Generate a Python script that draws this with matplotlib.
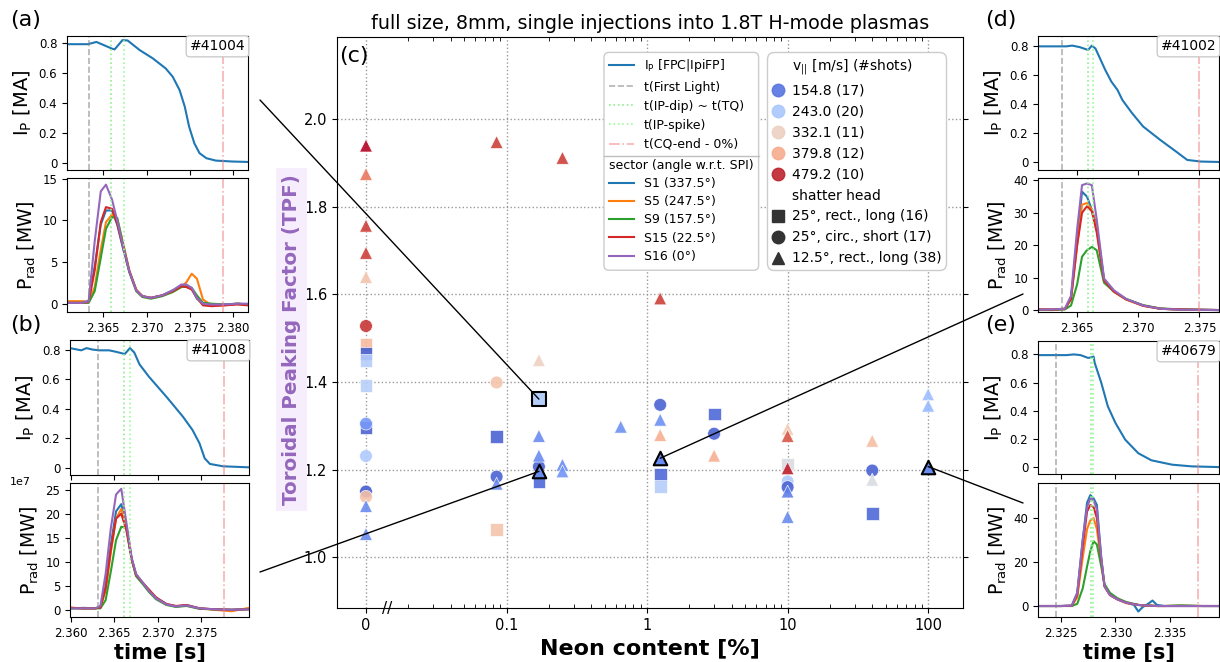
import numpy as np
import matplotlib.pyplot as plt
from matplotlib.lines import Line2D
from matplotlib.patches import ConnectionPatch, FancyBboxPatch
from matplotlib.colors import Normalize
from matplotlib.ticker import FixedLocator, NullFormatter
from matplotlib.transforms import IdentityTransform, blended_transform_factory

# ---- central scatter: TPF vs neon content ----
neon_pct = [0, 0, 0, 0, 0, 0, 0, 0, 0, 0, 0, 0, 0, 0, 0, 0, 0,
            0.085, 0.085, 0.085, 0.085, 0.085, 0.085,
            0.17, 0.17, 0.17, 0.17, 0.17, 0.17,
            0.25, 0.25, 0.25,
            0.65,
            1.24, 1.24, 1.24, 1.24, 1.24, 1.24,
            3.0, 3.0, 3.0,
            10, 10, 10, 10, 10, 10, 10, 10,
            40, 40, 40, 40,
            100, 100]
tpf = [1.94, 1.875, 1.757, 1.695, 1.640, 1.528, 1.486, 1.466, 1.450, 1.393, 1.297, 1.305, 1.231, 1.150, 1.138, 1.117, 1.053,
       1.948, 1.399, 1.275, 1.184, 1.168, 1.064,
       1.450, 1.361, 1.277, 1.232, 1.207, 1.173,
       1.912, 1.211, 1.196,
       1.298,
       1.591, 1.348, 1.314, 1.279, 1.188, 1.162,
       1.327, 1.282, 1.232,
       1.293, 1.277, 1.213, 1.203, 1.173, 1.160, 1.150, 1.092,
       1.266, 1.198, 1.177, 1.099,
       1.372, 1.346]
shape = ['^', '^', '^', '^', '^', 'o', 's', 's', 's', 's', 's', 'o', 'o', 'o', 'o', '^', '^',
         '^', 'o', 's', 'o', '^', 's',
         '^', 'o', '^', '^', 'o', 's',
         '^', '^', '^',
         '^',
         '^', 'o', '^', '^', 's', 's',
         's', 'o', '^',
         '^', '^', 's', '^', 'o', 'o', '^', '^',
         '^', 'o', '^', 's',
         '^', '^']
v_par = [490, 425, 465, 465, 350, 470, 365, 135, 255, 260, 140, 190, 250, 135, 355, 175, 175,
         465, 350, 140, 140, 175, 350,
         330, 255, 175, 175, 140, 145,
         465, 175, 185,
         180,
         465, 140, 180, 375, 145, 255,
         145, 140, 375,
         340, 450, 300, 480, 250, 140, 165, 175,
         360, 140, 300, 145,
         230, 225]

# shots shown in the side panels (a), (b), (d), (e)
hl_neon = [0.17, 0.17, 1.24, 100]
hl_tpf = [1.361, 1.196, 1.226, 1.207]
hl_shape = ['s', '^', '^', '^']
hl_v = [255, 175, 175, 175]

leg_v = [154.8, 243.0, 332.1, 379.8, 479.2]
leg_nshots = [17, 20, 11, 12, 10]
head_labels = ['25°, rect., long (16)', '25°, circ., short (17)', '12.5°, rect., long (38)']
sector_labels = ['S1 (337.5°)', 'S5 (247.5°)', 'S9 (157.5°)', 'S15 (22.5°)', 'S16 (0°)']
sector_colors = ['C0', 'C1', 'C2', 'C3', 'C4']

# ---- (a) #41004 ----
t_ip_a = [2.3608, 2.3632, 2.3642, 2.3660, 2.3663, 2.3672, 2.3678, 2.3692, 2.3707, 2.3722, 2.3730,
          2.3738, 2.3744, 2.3749, 2.3755, 2.3761, 2.3769, 2.3780, 2.3799, 2.3817]
ip_a = [0.795, 0.795, 0.810, 0.765, 0.760, 0.822, 0.820, 0.755, 0.700, 0.632, 0.577,
        0.487, 0.375, 0.241, 0.130, 0.063, 0.029, 0.013, 0.007, 0.004]
t_pr_a = [2.3608, 2.3625, 2.3633, 2.3640, 2.3647, 2.3653, 2.3660, 2.3666, 2.3673, 2.3680, 2.3688, 2.3695,
          2.3705, 2.3718, 2.3730, 2.3740, 2.3746, 2.3752, 2.3758, 2.3765, 2.3775, 2.3790, 2.3805, 2.3817]
prad_a = [
    [0.2, 0.2, 0.3, 4.5, 9.5, 11.2, 11.2, 9.5, 6.5, 3.8, 1.6, 0.9, 0.7, 1.0, 1.6, 2.1, 2.0, 1.8, 0.6, 0.0, -0.1, -0.1, 0.0, -0.1],
    [0.3, 0.3, 0.2, 2.0, 6.5, 9.8, 10.7, 10.2, 7.2, 4.0, 1.7, 0.9, 0.7, 1.0, 1.4, 2.0, 2.6, 3.6, 3.0, 0.5, -0.2, -0.2, 0.0, -0.1],
    [0.1, 0.1, 0.1, 1.5, 5.5, 9.0, 10.4, 10.3, 7.0, 3.8, 1.5, 0.8, 0.6, 0.9, 1.4, 2.0, 2.1, 1.9, 1.0, 0.1, 0.0, -0.1, 0.0, -0.1],
    [0.1, 0.1, 0.2, 4.0, 9.8, 11.6, 11.4, 9.6, 6.7, 3.9, 1.6, 0.9, 0.7, 1.0, 1.5, 2.1, 2.0, 1.7, 0.7, -0.2, -0.3, -0.2, -0.1, -0.2],
    [0.1, 0.1, 0.3, 7.5, 13.5, 14.3, 12.5, 10.0, 6.8, 3.9, 1.6, 0.9, 0.7, 1.0, 1.6, 2.3, 2.3, 1.9, 0.7, 0.0, -0.1, -0.1, 0.0, 0.0],
]
tmarks_a = [2.36331, 2.36592, 2.36742, 2.37885]

# ---- (b) #41008 ----
t_ip_b = [2.3599, 2.3612, 2.3618, 2.3625, 2.3633, 2.3644, 2.3652, 2.3662, 2.3668, 2.3673, 2.3679,
          2.3690, 2.3710, 2.3729, 2.3740, 2.3748, 2.3754, 2.3760, 2.3775, 2.3805]
ip_b = [0.810, 0.795, 0.810, 0.800, 0.795, 0.795, 0.785, 0.770, 0.810, 0.780, 0.700,
        0.615, 0.480, 0.345, 0.255, 0.165, 0.063, 0.025, 0.009, 0.002]
t_pr_b = [2.3599, 2.3615, 2.3628, 2.3634, 2.3640, 2.3646, 2.3652, 2.3658, 2.3664, 2.3670, 2.3675,
          2.3683, 2.3690, 2.3698, 2.3710, 2.3721, 2.3733, 2.3748, 2.3765, 2.3785, 2.3805]
prad_b = [
    [0.3, 0.4, 0.3, 0.6, 5.0, 13.5, 20.5, 22.0, 17.0, 10.5, 7.3, 5.5, 4.0, 2.5, 1.2, 0.7, 1.0, 0.3, 0.1, 0.0, 0.2],
    [0.5, 0.2, 0.3, 0.5, 4.0, 12.0, 19.0, 21.0, 17.5, 10.5, 7.2, 5.5, 3.8, 2.4, 1.1, 0.7, 0.9, 0.3, 0.0, -0.3, 0.4],
    [0.3, 0.3, 0.3, 0.3, 2.0, 8.0, 14.5, 17.3, 17.0, 10.5, 7.0, 5.3, 3.7, 2.2, 1.0, 0.6, 0.8, 0.2, 0.1, 0.0, 0.1],
    [0.4, 0.3, 0.3, 0.5, 4.5, 12.5, 19.0, 20.0, 16.5, 10.5, 7.3, 5.6, 4.2, 2.6, 1.2, 0.8, 1.0, 0.3, 0.1, 0.0, 0.1],
    [0.3, 0.3, 0.3, 0.8, 7.5, 17.0, 24.0, 25.2, 18.0, 10.8, 7.5, 5.6, 3.9, 2.4, 1.1, 0.7, 0.9, 0.3, 0.1, 0.0, 0.1],
]
tmarks_b = [2.36311, 2.3661, 2.36677, 2.37758]

# ---- (d) #41002 ----
t_ip_d = [2.3618, 2.3641, 2.3646, 2.3652, 2.3659, 2.3662, 2.3665, 2.3668, 2.3673, 2.3678, 2.3683,
          2.3687, 2.3695, 2.3704, 2.3718, 2.3731, 2.3740, 2.3751, 2.3766]
ip_d = [0.795, 0.795, 0.800, 0.790, 0.770, 0.800, 0.780, 0.725, 0.633, 0.553, 0.496,
        0.427, 0.336, 0.245, 0.153, 0.073, 0.016, 0.005, 0.002]
t_pr_d = [2.3618, 2.3630, 2.3640, 2.3645, 2.3650, 2.3654, 2.3658, 2.3662, 2.3666, 2.3672, 2.3680,
          2.3690, 2.3704, 2.3718, 2.3735, 2.3766]
prad_d = [
    [0.3, 0.3, 0.5, 4.0, 22.0, 36.5, 35.0, 31.0, 26.0, 9.5, 6.0, 3.5, 1.5, 0.5, 0.2, 0.1],
    [0.2, 0.3, 0.5, 3.5, 20.0, 32.5, 33.0, 31.0, 25.0, 9.0, 5.7, 3.3, 1.4, 0.5, 0.2, 0.1],
    [0.1, 0.1, 0.3, 1.5, 8.0, 16.5, 18.5, 19.5, 18.5, 8.5, 5.8, 3.5, 1.6, 0.6, 0.3, 0.1],
    [0.3, 0.2, 0.4, 3.5, 20.0, 30.0, 32.0, 30.5, 24.0, 9.2, 5.8, 3.4, 1.4, 0.5, 0.3, 0.1],
    [0.2, 0.3, 0.5, 4.5, 25.0, 38.5, 39.0, 38.5, 28.0, 9.8, 6.2, 3.5, 1.5, 0.5, 0.2, 0.1],
]
tmarks_d = [2.36375, 2.36591, 2.3663, 2.37494]

# ---- (e) #40679 ----
t_ip_e = [2.3229, 2.3255, 2.3262, 2.3268, 2.3275, 2.3278, 2.3280, 2.3281, 2.3287, 2.3293, 2.3300,
          2.3309, 2.3321, 2.3333, 2.3352, 2.3370, 2.3395]
ip_e = [0.795, 0.795, 0.800, 0.795, 0.775, 0.780, 0.785, 0.740, 0.600, 0.433, 0.315,
        0.196, 0.100, 0.050, 0.019, 0.007, 0.002]
t_pr_e = [2.3229, 2.3250, 2.3260, 2.3265, 2.3270, 2.3274, 2.3277, 2.3280, 2.3283, 2.3287, 2.3290, 2.3295,
          2.3302, 2.3310, 2.3317, 2.3321, 2.3325, 2.3330, 2.3334, 2.3338, 2.3345, 2.3360, 2.3380, 2.3395]
prad_e = [
    [0, 0, 0.2, 6, 30, 47, 50.5, 49, 46, 22, 9, 5, 3, 1.5, 0.5, -2.5, -0.5, 1.0, 2.5, 0.5, 0, 0, 0, 0],
    [0, 0, 0.1, 4, 22, 35, 39, 40, 35, 20, 9, 5, 3, 1.3, 0.8, 0.5, 0.3, 0.2, 0.1, 0, 0, 0.2, 0, 0],
    [0, 0, 0, 1, 8, 18, 25, 29.5, 28, 18, 10, 6, 3.5, 1.8, 1.0, 0.5, 0.3, 0.2, 0.1, 0, 0, 0.3, 0, 0],
    [0, 0, 0.1, 5, 27, 43, 46, 45, 40, 21, 9, 5, 3, 1.5, 0.8, 0.5, 0.3, 0.2, 0.1, 0, 0, 0, 0, 0],
    [0, 0, 0.2, 6, 30, 45, 49, 48, 44, 22, 9, 5, 3, 1.5, 0.8, 0.5, 0.3, 0.2, 0.1, 0, 0, 0, 0, 0],
]
tmarks_e = [2.32459, 2.3278, 2.32795, 2.33759]

W, H = 1220, 662
fig = plt.figure(figsize=(W / 100, H / 100), dpi=100)


def px_axes(l, r, t, b):
    return fig.add_axes([l / W, 1 - b / H, (r - l) / W, (b - t) / H])


mark_styles = [dict(color='gray', ls='--', alpha=0.6, lw=1.2),
               dict(color='lightgreen', ls=':', lw=1.2),
               dict(color='palegreen', ls=':', lw=1.2),
               dict(color='lightcoral', ls='-.', alpha=0.6, lw=1.2)]


def side_panel(box_ip, box_pr, t_ip, ip, t_pr, prad, tmarks, shot, xlim, xticks,
               ip_lim, pr_lim, pr_ticks, xlabel):
    a1 = px_axes(*box_ip)
    a2 = px_axes(*box_pr)
    a1.plot(t_ip, ip, color='C0', lw=1.5)
    for trace, c in zip(prad, sector_colors):
        a2.plot(t_pr, trace, color=c, lw=1.5)
    for a in (a1, a2):
        for tm, st in zip(tmarks, mark_styles):
            a.axvline(tm, **st)
        a.set_xlim(xlim)
        a.set_xticks(xticks)
        a.tick_params(labelsize=8.5)
    a1.set_xticklabels([])
    a2.set_xticklabels(['%.3f' % x for x in xticks])
    a1.set_ylim(ip_lim)
    a1.set_yticks([0, 0.2, 0.4, 0.6, 0.8])
    a1.set_yticklabels(['0', '0.2', '0.4', '0.6', '0.8'])
    a2.set_ylim(pr_lim)
    a2.set_yticks(pr_ticks)
    a2.set_yticklabels(['%g' % y for y in pr_ticks])
    a1.set_ylabel(r'I$_\mathrm{P}$ [MA]', fontsize=14, labelpad=3)
    a2.set_ylabel(r'P$_\mathrm{rad}$ [MW]', fontsize=13.5, labelpad=3)
    a1.text(0.985, 0.975, shot, transform=a1.transAxes, ha='right', va='top', fontsize=10,
            bbox=dict(boxstyle='round,pad=0.25', fc='white', ec='0.8'))
    if xlabel:
        a2.set_xlabel('time [s]', fontsize=15, fontweight='bold', labelpad=2)
    return a1, a2


side_panel((67, 248, 36, 170), (67, 248, 178, 312), t_ip_a, ip_a, t_pr_a, prad_a, tmarks_a, '#41004',
           (2.3608, 2.3817), [2.365, 2.370, 2.375, 2.380], (-0.05, 0.85), (-1.0, 15.1), [0, 5, 10, 15], False)
side_panel((70, 249, 340, 475), (70, 249, 483, 617), t_ip_b, ip_b, t_pr_b, prad_b, tmarks_b, '#41008',
           (2.3599, 2.3805), [2.360, 2.365, 2.370, 2.375], (-0.05, 0.865), (-1.5, 26.4), [0, 5, 10, 15, 20, 25], True)
side_panel((1038, 1219, 36, 170), (1038, 1219, 178, 312), t_ip_d, ip_d, t_pr_d, prad_d, tmarks_d, '#41002',
           (2.3618, 2.3766), [2.365, 2.370, 2.375], (-0.053, 0.866), (-0.5, 40.7), [0, 10, 20, 30, 40], False)
side_panel((1038, 1219, 341, 474), (1038, 1219, 483, 617), t_ip_e, ip_e, t_pr_e, prad_e, tmarks_e, '#40679',
           (2.3229, 2.3395), [2.325, 2.330, 2.335], (-0.047, 0.895), (-5, 56), [0, 20, 40], True)

fig.text(10 / W, 1 - 20 / H, '(a)', fontsize=16, va='center')
fig.text(10 / W, 1 - 325 / H, '(b)', fontsize=16, va='center')
fig.text(10 / W, 1 - 482 / H, '1e7', fontsize=8, va='center')
fig.text(985 / W, 1 - 20 / H, '(d)', fontsize=16, va='center')
fig.text(985 / W, 1 - 325 / H, '(e)', fontsize=16, va='center')

# ---- central panel ----
ax = px_axes(337, 963, 37, 608)
cmap = plt.get_cmap('coolwarm')
norm = Normalize(120, 490)
zero_pos = 0.01  # "0" neon plotted one decade below 0.1
xpos = [zero_pos if n == 0 else n for n in neon_pct]

for mk, z in (('s', 3), ('o', 4), ('^', 5)):
    idx = [i for i, s in enumerate(shape) if s == mk]
    ax.scatter([xpos[i] for i in idx], [tpf[i] for i in idx], c=[v_par[i] for i in idx],
               cmap=cmap, norm=norm, marker=mk, s=85, alpha=0.9, edgecolors='white',
               linewidths=0.5, zorder=z)
for x, y, mk, v in zip(hl_neon, hl_tpf, hl_shape, hl_v):
    ax.scatter([x], [y], c=[v], cmap=cmap, norm=norm, marker=mk, s=95,
               edgecolors='black', linewidths=1.5, zorder=4.5 if mk == 's' else 6)

ax.set_xscale('log')
ax.set_xlim(0.00622, 177)
ax.set_ylim(0.884, 2.188)
ax.set_xticks([0.01, 0.1, 1, 10, 100])
ax.set_xticklabels(['0', '0.1', '1', '10', '100'])
minor = [k * 10.0 ** d for d in range(-2, 3) for k in range(2, 10)]
ax.xaxis.set_minor_locator(FixedLocator([m for m in minor if m < 177]))
ax.xaxis.set_minor_formatter(NullFormatter())
ax.set_yticks([1.0, 1.2, 1.4, 1.6, 1.8, 2.0])
ax.tick_params(labelsize=10.5)
ax.tick_params(which='minor', direction='in', top=True, bottom=True, length=3)
ax.tick_params(axis='y', right=True)
ax.grid(True, which='major', ls=':', color='0.6', lw=1)
ax.set_axisbelow(True)
ax.set_xlabel('Neon content [%]', fontsize=16, fontweight='bold', labelpad=4)
ax.set_ylabel('Toroidal Peaking Factor (TPF)', fontsize=14.3, fontweight='bold', color='#9467bd',
              bbox=dict(boxstyle='square,pad=0.3', fc='#f6eefd', ec='none'))
ax.yaxis.set_label_coords(-0.058, 0.47)
ax.set_title('full size, 8mm, single injections into 1.8T H-mode plasmas', fontsize=13.8, pad=6)
ax.text(0.004, 0.985, '(c)', transform=ax.transAxes, fontsize=16, va='top', ha='left')
ax.text(0.0142, 0, '//', transform=blended_transform_factory(ax.transData, ax.transAxes),
        ha='center', va='center', fontsize=11)

# ---- legends ----
marks_handles = [Line2D([], [], color='C0', lw=1.5, label=r'I$_\mathrm{P}$ [FPC|IpiFP]')]
for st, lab in zip(mark_styles, ['t(First Light)', 't(IP-dip) ~ t(TQ)', 't(IP-spike)', 't(CQ-end - 0%)']):
    marks_handles.append(Line2D([], [], label=lab, **st))
sector_handles = [Line2D([], [], color=c, lw=1.5, label=l) for c, l in zip(sector_colors, sector_labels)]
blank = dict(ls='none', marker='none')
v_handles = [Line2D([], [], label=r'v$_{||}$ [m/s] (#shots)', **blank)]
for v, n in zip(leg_v, leg_nshots):
    v_handles.append(Line2D([], [], ls='none', marker='o', ms=9, color=cmap(norm(v)), alpha=0.9,
                            label='%.1f (%d)' % (v, n)))
v_handles.append(Line2D([], [], label='shatter head', **blank))
for mk, lab in zip(['s', 'o', '^'], head_labels):
    v_handles.append(Line2D([], [], ls='none', marker=mk, ms=9, color='#333333', label=lab))

leg1 = ax.legend(handles=marks_handles, loc='upper left', bbox_to_anchor=(0.4265, 0.973),
                 frameon=False, fontsize=9, labelspacing=0.49, borderaxespad=0)
ax.add_artist(leg1)
leg2 = ax.legend(handles=sector_handles, loc='upper left', bbox_to_anchor=(0.4265, 0.80),
                 title='sector (angle w.r.t. SPI)', title_fontsize=9, alignment='left',
                 frameon=False, fontsize=9, labelspacing=0.42, borderaxespad=0)
ax.add_artist(leg2)
leg3 = ax.legend(handles=v_handles, loc='upper right', bbox_to_anchor=(0.973, 0.973),
                 framealpha=1, edgecolor='0.8', fontsize=10, labelspacing=0.5, borderaxespad=0,
                 handlelength=1.0, handletextpad=0.45, borderpad=0.35)
leg3.get_frame().set_boxstyle('round,pad=0,rounding_size=0.5')

fig.canvas.draw()
bb1 = leg1.get_window_extent()
x0, y0 = ax.transAxes.inverted().transform((bb1.x0, bb1.y0))
leg2.set_bbox_to_anchor((x0, y0 + 0.004), transform=ax.transAxes)
fig.canvas.draw()
bb1 = leg1.get_window_extent()
bb2 = leg2.get_window_extent()
bb3 = leg3.get_window_extent()
fx0 = bb1.x0
fx1 = max(bb1.x1, bb2.x1)
frame = FancyBboxPatch((fx0, bb3.y0), fx1 - fx0, bb3.y1 - bb3.y0, boxstyle='round,pad=0,rounding_size=5',
                       transform=IdentityTransform(), fc='white', ec='0.8', lw=1, zorder=4.9)
ax.add_artist(frame)
ax.add_artist(Line2D([fx0, fx1], [bb1.y0, bb1.y0], transform=IdentityTransform(), color='0.75',
                     lw=1, zorder=5.1))

# ---- connectors from side panels to their shots ----
anchors = [(260, 100), (260, 572), (1023, 294), (1023, 503)]
for (x, y), (px, py) in zip(zip(hl_neon, hl_tpf), anchors):
    con = ConnectionPatch(xyA=(x, y), coordsA=ax.transData, xyB=(px / W, 1 - py / H),
                          coordsB=fig.transFigure, color='black', lw=1, zorder=7)
    fig.add_artist(con)

fig.savefig('out.png', dpi=100)
